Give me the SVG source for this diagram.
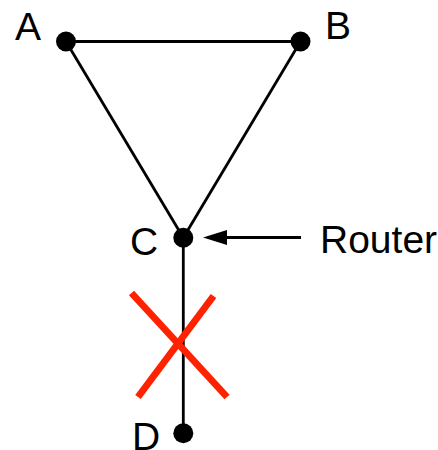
<svg xmlns="http://www.w3.org/2000/svg" width="438" height="450" viewBox="0 0 438 450">
<style>
.lbl{font-family:"Liberation Sans",Arial,sans-serif;font-size:39px;fill:#000}
.edge{stroke:#000;stroke-width:2.8;fill:none}
.dot{fill:#000}
.x{stroke:#ff2200;stroke-width:7;stroke-linecap:butt}
</style>
<rect width="438" height="450" fill="#fff"/>
<g id="connectors">
<line class="edge" x1="66" y1="41.5" x2="300.5" y2="41.5"/>
<line class="edge" x1="66" y1="41.5" x2="183.3" y2="237.8"/>
<line class="edge" x1="300.5" y1="41.5" x2="183.3" y2="237.8"/>
<line class="edge" x1="183.3" y1="237.8" x2="183.3" y2="433.3"/>
<line class="edge" x1="222" y1="237.5" x2="301" y2="237.5"/>
<polygon points="203,237.5 227,230 227,245" fill="#000"/>
</g>
<g id="cross">
<line class="x" x1="131.5" y1="293" x2="227" y2="397"/>
<line class="x" x1="213.5" y1="296" x2="138" y2="397"/>
</g>
<g id="node-A"><circle class="dot" cx="66" cy="41.5" r="10"/><text class="lbl" x="15" y="40">A</text></g>
<g id="node-B"><circle class="dot" cx="300.5" cy="41.5" r="10"/><text class="lbl" x="325" y="39">B</text></g>
<g id="node-C"><circle class="dot" cx="183.3" cy="237.8" r="10"/><text class="lbl" x="130" y="255">C</text></g>
<g id="node-D"><circle class="dot" cx="183.3" cy="433.3" r="10"/><text class="lbl" x="132" y="450">D</text></g>
<g id="router-label"><text class="lbl" x="320" y="253">Router</text></g>
</svg>
